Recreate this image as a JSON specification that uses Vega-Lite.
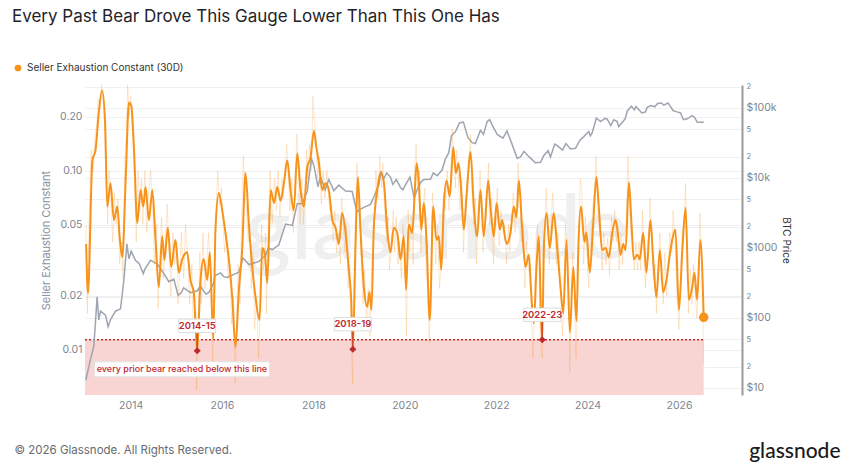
{
  "$schema": "https://vega.github.io/schema/vega-lite/v6.json",
  "width": 657,
  "height": 310,
  "autosize": "none",
  "padding": {"left": 85, "top": 85, "right": 111, "bottom": 71},
  "background": "white",
  "config": {"font": "Inter", "view": {"stroke": null}},
  "title": {
    "text": "Every Past Bear Drove This Gauge Lower Than This One Has",
    "anchor": "start",
    "frame": "group",
    "dx": -73,
    "dy": 21,
    "offset": 58,
    "fontSize": 17,
    "fontWeight": "normal",
    "color": "#1f2328"
  },
  "datasets": {
    "sec": [
      {"date": "2013-01-10", "value": 0.039}, {"date": "2013-01-25", "value": 0.0208}, {"date": "2013-03-01", "value": 0.114},
      {"date": "2013-03-26", "value": 0.13}, {"date": "2013-04-21", "value": 0.21}, {"date": "2013-05-18", "value": 0.28},
      {"date": "2013-06-10", "value": 0.19}, {"date": "2013-06-28", "value": 0.063}, {"date": "2013-07-24", "value": 0.085},
      {"date": "2013-08-20", "value": 0.053}, {"date": "2013-09-16", "value": 0.063}, {"date": "2013-10-07", "value": 0.041},
      {"date": "2013-10-26", "value": 0.033}, {"date": "2013-11-22", "value": 0.088}, {"date": "2013-12-18", "value": 0.24},
      {"date": "2014-01-06", "value": 0.23}, {"date": "2014-01-27", "value": 0.135}, {"date": "2014-02-23", "value": 0.051},
      {"date": "2014-03-21", "value": 0.078}, {"date": "2014-04-12", "value": 0.063}, {"date": "2014-04-30", "value": 0.081},
      {"date": "2014-05-27", "value": 0.053}, {"date": "2014-06-23", "value": 0.078}, {"date": "2014-07-19", "value": 0.041},
      {"date": "2014-08-14", "value": 0.0224}, {"date": "2014-09-10", "value": 0.043}, {"date": "2014-09-28", "value": 0.0317},
      {"date": "2014-10-25", "value": 0.048}, {"date": "2014-11-21", "value": 0.029}, {"date": "2014-12-25", "value": 0.041},
      {"date": "2015-01-21", "value": 0.027}, {"date": "2015-02-17", "value": 0.032}, {"date": "2015-03-29", "value": 0.035},
      {"date": "2015-04-24", "value": 0.0245}, {"date": "2015-05-21", "value": 0.0208}, {"date": "2015-06-17", "value": 0.0099},
      {"date": "2015-07-13", "value": 0.0245}, {"date": "2015-08-08", "value": 0.032}, {"date": "2015-09-05", "value": 0.0245},
      {"date": "2015-09-26", "value": 0.035}, {"date": "2015-10-23", "value": 0.0114}, {"date": "2015-11-10", "value": 0.047},
      {"date": "2015-12-07", "value": 0.075}, {"date": "2016-01-03", "value": 0.06}, {"date": "2016-01-29", "value": 0.045},
      {"date": "2016-02-25", "value": 0.032}, {"date": "2016-03-23", "value": 0.0197}, {"date": "2016-04-18", "value": 0.0104},
      {"date": "2016-05-15", "value": 0.0216}, {"date": "2016-06-11", "value": 0.037}, {"date": "2016-07-07", "value": 0.097},
      {"date": "2016-08-03", "value": 0.05}, {"date": "2016-08-30", "value": 0.029}, {"date": "2016-09-25", "value": 0.0197},
      {"date": "2016-10-27", "value": 0.0147}, {"date": "2016-11-18", "value": 0.037}, {"date": "2016-12-09", "value": 0.034},
      {"date": "2016-12-28", "value": 0.0236}, {"date": "2017-01-24", "value": 0.078}, {"date": "2017-02-20", "value": 0.066},
      {"date": "2017-03-18", "value": 0.081}, {"date": "2017-04-14", "value": 0.068}, {"date": "2017-05-10", "value": 0.085},
      {"date": "2017-06-06", "value": 0.114}, {"date": "2017-07-02", "value": 0.078}, {"date": "2017-07-28", "value": 0.06},
      {"date": "2017-08-25", "value": 0.125}, {"date": "2017-09-20", "value": 0.078}, {"date": "2017-10-17", "value": 0.063},
      {"date": "2017-11-13", "value": 0.105}, {"date": "2017-12-09", "value": 0.118}, {"date": "2018-01-05", "value": 0.167},
      {"date": "2018-01-24", "value": 0.135}, {"date": "2018-02-14", "value": 0.11}, {"date": "2018-03-12", "value": 0.078},
      {"date": "2018-04-08", "value": 0.085}, {"date": "2018-05-04", "value": 0.078}, {"date": "2018-06-01", "value": 0.053},
      {"date": "2018-06-27", "value": 0.048}, {"date": "2018-07-23", "value": 0.039}, {"date": "2018-08-19", "value": 0.058},
      {"date": "2018-09-15", "value": 0.045}, {"date": "2018-10-11", "value": 0.028}, {"date": "2018-10-30", "value": 0.019},
      {"date": "2018-11-12", "value": 0.0101}, {"date": "2018-12-03", "value": 0.037}, {"date": "2018-12-22", "value": 0.092},
      {"date": "2019-01-12", "value": 0.047}, {"date": "2019-02-08", "value": 0.0224}, {"date": "2019-03-07", "value": 0.0174},
      {"date": "2019-03-25", "value": 0.021}, {"date": "2019-04-10", "value": 0.0167}, {"date": "2019-04-28", "value": 0.047},
      {"date": "2019-05-26", "value": 0.078}, {"date": "2019-06-21", "value": 0.097}, {"date": "2019-07-17", "value": 0.087},
      {"date": "2019-08-14", "value": 0.047}, {"date": "2019-09-09", "value": 0.035}, {"date": "2019-10-05", "value": 0.048},
      {"date": "2019-11-02", "value": 0.045}, {"date": "2019-11-28", "value": 0.032}, {"date": "2019-12-24", "value": 0.043},
      {"date": "2020-01-12", "value": 0.0216}, {"date": "2020-02-02", "value": 0.05}, {"date": "2020-03-01", "value": 0.045},
      {"date": "2020-03-22", "value": 0.078}, {"date": "2020-04-05", "value": 0.11}, {"date": "2020-04-23", "value": 0.085},
      {"date": "2020-05-12", "value": 0.047}, {"date": "2020-06-02", "value": 0.066}, {"date": "2020-06-23", "value": 0.041},
      {"date": "2020-07-19", "value": 0.0147}, {"date": "2020-08-16", "value": 0.063}, {"date": "2020-09-11", "value": 0.041},
      {"date": "2020-09-29", "value": 0.043}, {"date": "2020-10-19", "value": 0.028}, {"date": "2020-11-08", "value": 0.063},
      {"date": "2020-11-30", "value": 0.088}, {"date": "2020-12-26", "value": 0.072}, {"date": "2021-01-23", "value": 0.135},
      {"date": "2021-02-13", "value": 0.097}, {"date": "2021-03-06", "value": 0.11}, {"date": "2021-03-27", "value": 0.078},
      {"date": "2021-04-17", "value": 0.047}, {"date": "2021-05-09", "value": 0.072}, {"date": "2021-06-10", "value": 0.127},
      {"date": "2021-07-06", "value": 0.063}, {"date": "2021-08-02", "value": 0.043}, {"date": "2021-08-28", "value": 0.078},
      {"date": "2021-09-24", "value": 0.043}, {"date": "2021-10-29", "value": 0.088}, {"date": "2021-11-16", "value": 0.063},
      {"date": "2021-12-13", "value": 0.043}, {"date": "2022-01-04", "value": 0.066}, {"date": "2022-01-30", "value": 0.047},
      {"date": "2022-02-18", "value": 0.053}, {"date": "2022-03-16", "value": 0.041}, {"date": "2022-03-29", "value": 0.039},
      {"date": "2022-04-25", "value": 0.045}, {"date": "2022-05-22", "value": 0.063}, {"date": "2022-06-12", "value": 0.055},
      {"date": "2022-07-01", "value": 0.088}, {"date": "2022-07-28", "value": 0.047}, {"date": "2022-08-23", "value": 0.029},
      {"date": "2022-09-19", "value": 0.034}, {"date": "2022-10-08", "value": 0.0208}, {"date": "2022-10-29", "value": 0.0141},
      {"date": "2022-11-19", "value": 0.029}, {"date": "2022-12-08", "value": 0.043}, {"date": "2022-12-27", "value": 0.014},
      {"date": "2023-01-04", "value": 0.0114}, {"date": "2023-01-17", "value": 0.037}, {"date": "2023-02-08", "value": 0.058},
      {"date": "2023-03-05", "value": 0.037}, {"date": "2023-04-06", "value": 0.058}, {"date": "2023-05-04", "value": 0.037},
      {"date": "2023-05-30", "value": 0.0224}, {"date": "2023-06-21", "value": 0.016}, {"date": "2023-07-17", "value": 0.041},
      {"date": "2023-08-13", "value": 0.0125}, {"date": "2023-09-09", "value": 0.029}, {"date": "2023-10-05", "value": 0.0145},
      {"date": "2023-10-20", "value": 0.038}, {"date": "2023-11-10", "value": 0.063}, {"date": "2023-12-07", "value": 0.04},
      {"date": "2023-12-23", "value": 0.045}, {"date": "2024-01-19", "value": 0.027}, {"date": "2024-02-15", "value": 0.05},
      {"date": "2024-03-12", "value": 0.092}, {"date": "2024-03-31", "value": 0.063}, {"date": "2024-04-27", "value": 0.036},
      {"date": "2024-05-24", "value": 0.037}, {"date": "2024-06-19", "value": 0.033}, {"date": "2024-07-17", "value": 0.045},
      {"date": "2024-08-12", "value": 0.053}, {"date": "2024-08-30", "value": 0.045}, {"date": "2024-09-21", "value": 0.034},
      {"date": "2024-10-12", "value": 0.039}, {"date": "2024-10-31", "value": 0.036}, {"date": "2024-11-27", "value": 0.086},
      {"date": "2024-12-18", "value": 0.05}, {"date": "2025-01-05", "value": 0.032}, {"date": "2025-02-02", "value": 0.034},
      {"date": "2025-02-22", "value": 0.032}, {"date": "2025-03-21", "value": 0.045}, {"date": "2025-04-16", "value": 0.027},
      {"date": "2025-05-18", "value": 0.053}, {"date": "2025-06-09", "value": 0.032}, {"date": "2025-07-05", "value": 0.0197},
      {"date": "2025-08-01", "value": 0.036}, {"date": "2025-08-28", "value": 0.021}, {"date": "2025-09-23", "value": 0.0245},
      {"date": "2025-10-20", "value": 0.034}, {"date": "2025-11-08", "value": 0.041}, {"date": "2025-12-04", "value": 0.047},
      {"date": "2026-01-01", "value": 0.0167}, {"date": "2026-01-28", "value": 0.036}, {"date": "2026-02-23", "value": 0.062},
      {"date": "2026-03-21", "value": 0.019}, {"date": "2026-04-17", "value": 0.0224}, {"date": "2026-05-05", "value": 0.027},
      {"date": "2026-05-26", "value": 0.019}, {"date": "2026-06-21", "value": 0.041}, {"date": "2026-07-18", "value": 0.0152}
    ],
    "latest": [
      {"date": "2026-07-18", "value": 0.0152}
    ],
    "daily": [
      {"date": "2013-01-08", "value": 0.05}, {"date": "2013-01-20", "value": 0.016}, {"date": "2013-02-05", "value": 0.06},
      {"date": "2013-02-18", "value": 0.13}, {"date": "2013-03-08", "value": 0.1}, {"date": "2013-03-20", "value": 0.15},
      {"date": "2013-04-05", "value": 0.18}, {"date": "2013-04-15", "value": 0.25}, {"date": "2013-05-01", "value": 0.22},
      {"date": "2013-05-12", "value": 0.3}, {"date": "2013-05-25", "value": 0.26}, {"date": "2013-06-05", "value": 0.2},
      {"date": "2013-06-20", "value": 0.09}, {"date": "2013-07-01", "value": 0.05}, {"date": "2013-07-12", "value": 0.1},
      {"date": "2013-07-28", "value": 0.07}, {"date": "2013-08-10", "value": 0.04}, {"date": "2013-08-25", "value": 0.075},
      {"date": "2013-09-08", "value": 0.05}, {"date": "2013-09-22", "value": 0.07}, {"date": "2013-10-05", "value": 0.03},
      {"date": "2013-10-20", "value": 0.04}, {"date": "2013-11-02", "value": 0.025}, {"date": "2013-11-15", "value": 0.12},
      {"date": "2013-11-28", "value": 0.16}, {"date": "2013-12-08", "value": 0.3}, {"date": "2013-12-22", "value": 0.2},
      {"date": "2014-01-02", "value": 0.26}, {"date": "2014-01-15", "value": 0.17}, {"date": "2014-02-01", "value": 0.09},
      {"date": "2014-02-15", "value": 0.04}, {"date": "2014-03-01", "value": 0.1}, {"date": "2014-03-15", "value": 0.06},
      {"date": "2014-03-28", "value": 0.09}, {"date": "2014-04-08", "value": 0.05}, {"date": "2014-04-25", "value": 0.1},
      {"date": "2014-05-10", "value": 0.045}, {"date": "2014-05-20", "value": 0.07}, {"date": "2014-06-10", "value": 0.1},
      {"date": "2014-06-28", "value": 0.06}, {"date": "2014-07-10", "value": 0.03}, {"date": "2014-07-28", "value": 0.05},
      {"date": "2014-08-08", "value": 0.017}, {"date": "2014-08-22", "value": 0.03}, {"date": "2014-09-05", "value": 0.055},
      {"date": "2014-09-20", "value": 0.025}, {"date": "2014-10-05", "value": 0.04}, {"date": "2014-10-20", "value": 0.065},
      {"date": "2014-11-05", "value": 0.035}, {"date": "2014-11-18", "value": 0.02}, {"date": "2014-12-05", "value": 0.045},
      {"date": "2014-12-18", "value": 0.03}, {"date": "2015-01-05", "value": 0.04}, {"date": "2015-01-15", "value": 0.018},
      {"date": "2015-02-01", "value": 0.03}, {"date": "2015-02-10", "value": 0.045}, {"date": "2015-03-01", "value": 0.025},
      {"date": "2015-03-15", "value": 0.05}, {"date": "2015-04-05", "value": 0.03}, {"date": "2015-04-18", "value": 0.018},
      {"date": "2015-05-05", "value": 0.03}, {"date": "2015-05-15", "value": 0.013}, {"date": "2015-06-05", "value": 0.016},
      {"date": "2015-06-12", "value": 0.006}, {"date": "2015-06-25", "value": 0.014}, {"date": "2015-07-08", "value": 0.035},
      {"date": "2015-07-20", "value": 0.018}, {"date": "2015-08-02", "value": 0.045}, {"date": "2015-08-18", "value": 0.022},
      {"date": "2015-09-01", "value": 0.03}, {"date": "2015-09-15", "value": 0.045}, {"date": "2015-10-05", "value": 0.025},
      {"date": "2015-10-18", "value": 0.008}, {"date": "2015-10-28", "value": 0.02}, {"date": "2015-11-15", "value": 0.06},
      {"date": "2015-11-28", "value": 0.1}, {"date": "2015-12-12", "value": 0.065}, {"date": "2015-12-28", "value": 0.08},
      {"date": "2016-01-10", "value": 0.05}, {"date": "2016-01-22", "value": 0.035}, {"date": "2016-02-05", "value": 0.045},
      {"date": "2016-02-18", "value": 0.025}, {"date": "2016-03-05", "value": 0.03}, {"date": "2016-03-18", "value": 0.014},
      {"date": "2016-04-02", "value": 0.02}, {"date": "2016-04-15", "value": 0.0065}, {"date": "2016-04-25", "value": 0.013},
      {"date": "2016-05-08", "value": 0.03}, {"date": "2016-05-25", "value": 0.018}, {"date": "2016-06-05", "value": 0.05},
      {"date": "2016-06-20", "value": 0.12}, {"date": "2016-07-02", "value": 0.08}, {"date": "2016-07-15", "value": 0.06},
      {"date": "2016-07-28", "value": 0.04}, {"date": "2016-08-10", "value": 0.05}, {"date": "2016-08-22", "value": 0.022},
      {"date": "2016-09-05", "value": 0.035}, {"date": "2016-09-18", "value": 0.013}, {"date": "2016-10-05", "value": 0.02},
      {"date": "2016-10-20", "value": 0.009}, {"date": "2016-11-05", "value": 0.02}, {"date": "2016-11-12", "value": 0.05},
      {"date": "2016-11-28", "value": 0.028}, {"date": "2016-12-15", "value": 0.045}, {"date": "2016-12-22", "value": 0.016},
      {"date": "2017-01-08", "value": 0.06}, {"date": "2017-01-20", "value": 0.1}, {"date": "2017-02-05", "value": 0.05},
      {"date": "2017-02-25", "value": 0.09}, {"date": "2017-03-10", "value": 0.06}, {"date": "2017-03-25", "value": 0.1},
      {"date": "2017-04-08", "value": 0.055}, {"date": "2017-04-25", "value": 0.09}, {"date": "2017-05-05", "value": 0.07},
      {"date": "2017-05-20", "value": 0.11}, {"date": "2017-06-01", "value": 0.14}, {"date": "2017-06-15", "value": 0.09},
      {"date": "2017-06-28", "value": 0.06}, {"date": "2017-07-12", "value": 0.09}, {"date": "2017-07-25", "value": 0.045},
      {"date": "2017-08-10", "value": 0.1}, {"date": "2017-08-22", "value": 0.16}, {"date": "2017-09-05", "value": 0.09},
      {"date": "2017-09-15", "value": 0.05}, {"date": "2017-10-01", "value": 0.09}, {"date": "2017-10-12", "value": 0.05},
      {"date": "2017-10-28", "value": 0.08}, {"date": "2017-11-08", "value": 0.13}, {"date": "2017-11-20", "value": 0.09},
      {"date": "2017-12-01", "value": 0.14}, {"date": "2017-12-15", "value": 0.1}, {"date": "2017-12-28", "value": 0.26},
      {"date": "2018-01-08", "value": 0.19}, {"date": "2018-01-20", "value": 0.16}, {"date": "2018-02-05", "value": 0.09},
      {"date": "2018-02-20", "value": 0.12}, {"date": "2018-03-05", "value": 0.065}, {"date": "2018-03-20", "value": 0.1},
      {"date": "2018-04-02", "value": 0.07}, {"date": "2018-04-18", "value": 0.1}, {"date": "2018-05-10", "value": 0.06},
      {"date": "2018-05-25", "value": 0.065}, {"date": "2018-06-08", "value": 0.04}, {"date": "2018-06-20", "value": 0.06},
      {"date": "2018-07-05", "value": 0.035}, {"date": "2018-07-18", "value": 0.045}, {"date": "2018-08-05", "value": 0.03},
      {"date": "2018-08-15", "value": 0.07}, {"date": "2018-08-28", "value": 0.05}, {"date": "2018-09-10", "value": 0.035},
      {"date": "2018-09-22", "value": 0.05}, {"date": "2018-10-05", "value": 0.022}, {"date": "2018-10-18", "value": 0.03},
      {"date": "2018-10-28", "value": 0.014}, {"date": "2018-11-10", "value": 0.0065}, {"date": "2018-11-20", "value": 0.02},
      {"date": "2018-12-01", "value": 0.05}, {"date": "2018-12-15", "value": 0.11}, {"date": "2018-12-28", "value": 0.07},
      {"date": "2019-01-05", "value": 0.06}, {"date": "2019-01-20", "value": 0.03}, {"date": "2019-02-01", "value": 0.018},
      {"date": "2019-02-15", "value": 0.028}, {"date": "2019-03-01", "value": 0.013}, {"date": "2019-03-15", "value": 0.022},
      {"date": "2019-03-30", "value": 0.012}, {"date": "2019-04-08", "value": 0.025}, {"date": "2019-04-20", "value": 0.03},
      {"date": "2019-05-05", "value": 0.06}, {"date": "2019-05-15", "value": 0.1}, {"date": "2019-06-01", "value": 0.07},
      {"date": "2019-06-15", "value": 0.12}, {"date": "2019-07-01", "value": 0.08}, {"date": "2019-07-10", "value": 0.11},
      {"date": "2019-07-25", "value": 0.06}, {"date": "2019-08-08", "value": 0.04}, {"date": "2019-08-20", "value": 0.055},
      {"date": "2019-09-01", "value": 0.028}, {"date": "2019-09-18", "value": 0.04}, {"date": "2019-10-01", "value": 0.06},
      {"date": "2019-10-12", "value": 0.035}, {"date": "2019-10-25", "value": 0.055}, {"date": "2019-11-08", "value": 0.03},
      {"date": "2019-11-20", "value": 0.04}, {"date": "2019-12-05", "value": 0.025}, {"date": "2019-12-18", "value": 0.05},
      {"date": "2020-01-05", "value": 0.03}, {"date": "2020-01-15", "value": 0.012}, {"date": "2020-01-28", "value": 0.06},
      {"date": "2020-02-10", "value": 0.035}, {"date": "2020-02-22", "value": 0.055}, {"date": "2020-03-08", "value": 0.03},
      {"date": "2020-03-20", "value": 0.1}, {"date": "2020-04-01", "value": 0.14}, {"date": "2020-04-12", "value": 0.08},
      {"date": "2020-04-28", "value": 0.1}, {"date": "2020-05-08", "value": 0.035}, {"date": "2020-05-20", "value": 0.055},
      {"date": "2020-06-10", "value": 0.08}, {"date": "2020-06-18", "value": 0.03}, {"date": "2020-07-05", "value": 0.02},
      {"date": "2020-07-15", "value": 0.011}, {"date": "2020-07-28", "value": 0.025}, {"date": "2020-08-10", "value": 0.075},
      {"date": "2020-08-25", "value": 0.05}, {"date": "2020-09-05", "value": 0.03}, {"date": "2020-09-20", "value": 0.05},
      {"date": "2020-10-05", "value": 0.022}, {"date": "2020-10-25", "value": 0.035}, {"date": "2020-11-05", "value": 0.075},
      {"date": "2020-11-20", "value": 0.06}, {"date": "2020-12-05", "value": 0.1}, {"date": "2020-12-20", "value": 0.06},
      {"date": "2021-01-05", "value": 0.1}, {"date": "2021-01-15", "value": 0.17}, {"date": "2021-01-30", "value": 0.11},
      {"date": "2021-02-08", "value": 0.08}, {"date": "2021-02-20", "value": 0.13}, {"date": "2021-03-05", "value": 0.09},
      {"date": "2021-03-18", "value": 0.06}, {"date": "2021-04-01", "value": 0.09}, {"date": "2021-04-15", "value": 0.035},
      {"date": "2021-04-28", "value": 0.06}, {"date": "2021-05-15", "value": 0.09}, {"date": "2021-05-28", "value": 0.1},
      {"date": "2021-06-10", "value": 0.16}, {"date": "2021-06-20", "value": 0.08}, {"date": "2021-07-05", "value": 0.05},
      {"date": "2021-07-18", "value": 0.07}, {"date": "2021-07-28", "value": 0.03}, {"date": "2021-08-10", "value": 0.06},
      {"date": "2021-08-25", "value": 0.1}, {"date": "2021-09-05", "value": 0.06}, {"date": "2021-09-18", "value": 0.035},
      {"date": "2021-10-05", "value": 0.06}, {"date": "2021-10-20", "value": 0.075}, {"date": "2021-11-01", "value": 0.11},
      {"date": "2021-11-10", "value": 0.05}, {"date": "2021-11-25", "value": 0.07}, {"date": "2021-12-10", "value": 0.03},
      {"date": "2021-12-25", "value": 0.055}, {"date": "2022-01-10", "value": 0.08}, {"date": "2022-01-25", "value": 0.038},
      {"date": "2022-02-08", "value": 0.06}, {"date": "2022-02-25", "value": 0.045}, {"date": "2022-03-10", "value": 0.05},
      {"date": "2022-03-25", "value": 0.03}, {"date": "2022-04-10", "value": 0.05}, {"date": "2022-04-20", "value": 0.035},
      {"date": "2022-05-05", "value": 0.055}, {"date": "2022-05-18", "value": 0.075}, {"date": "2022-06-01", "value": 0.045},
      {"date": "2022-06-15", "value": 0.065}, {"date": "2022-06-25", "value": 0.11}, {"date": "2022-07-10", "value": 0.07},
      {"date": "2022-07-20", "value": 0.04}, {"date": "2022-08-05", "value": 0.05}, {"date": "2022-08-18", "value": 0.022},
      {"date": "2022-09-01", "value": 0.04}, {"date": "2022-09-12", "value": 0.03}, {"date": "2022-09-28", "value": 0.025},
      {"date": "2022-10-10", "value": 0.015}, {"date": "2022-10-22", "value": 0.009}, {"date": "2022-11-05", "value": 0.02},
      {"date": "2022-11-15", "value": 0.035}, {"date": "2022-11-28", "value": 0.05}, {"date": "2022-12-10", "value": 0.03},
      {"date": "2022-12-20", "value": 0.011}, {"date": "2023-01-05", "value": 0.009}, {"date": "2023-01-12", "value": 0.02},
      {"date": "2023-01-25", "value": 0.05}, {"date": "2023-02-05", "value": 0.08}, {"date": "2023-02-18", "value": 0.045},
      {"date": "2023-03-01", "value": 0.03}, {"date": "2023-03-15", "value": 0.05}, {"date": "2023-03-28", "value": 0.075},
      {"date": "2023-04-15", "value": 0.045}, {"date": "2023-04-28", "value": 0.03}, {"date": "2023-05-10", "value": 0.045},
      {"date": "2023-05-22", "value": 0.028}, {"date": "2023-06-05", "value": 0.018}, {"date": "2023-06-15", "value": 0.012},
      {"date": "2023-06-28", "value": 0.02}, {"date": "2023-07-08", "value": 0.05}, {"date": "2023-07-25", "value": 0.03},
      {"date": "2023-08-05", "value": 0.02}, {"date": "2023-08-12", "value": 0.0075}, {"date": "2023-08-25", "value": 0.018},
      {"date": "2023-09-05", "value": 0.035}, {"date": "2023-09-18", "value": 0.022}, {"date": "2023-10-01", "value": 0.009},
      {"date": "2023-10-12", "value": 0.018}, {"date": "2023-10-25", "value": 0.05}, {"date": "2023-11-05", "value": 0.09},
      {"date": "2023-11-18", "value": 0.075}, {"date": "2023-12-01", "value": 0.03}, {"date": "2023-12-15", "value": 0.055},
      {"date": "2023-12-28", "value": 0.035}, {"date": "2024-01-10", "value": 0.022}, {"date": "2024-01-25", "value": 0.035},
      {"date": "2024-02-08", "value": 0.06}, {"date": "2024-02-25", "value": 0.075}, {"date": "2024-03-08", "value": 0.12},
      {"date": "2024-03-18", "value": 0.08}, {"date": "2024-04-01", "value": 0.05}, {"date": "2024-04-15", "value": 0.045},
      {"date": "2024-04-28", "value": 0.028}, {"date": "2024-05-10", "value": 0.045}, {"date": "2024-05-28", "value": 0.03},
      {"date": "2024-06-10", "value": 0.042}, {"date": "2024-06-25", "value": 0.026}, {"date": "2024-07-10", "value": 0.055},
      {"date": "2024-07-25", "value": 0.04}, {"date": "2024-08-05", "value": 0.06}, {"date": "2024-08-18", "value": 0.04},
      {"date": "2024-08-30", "value": 0.05}, {"date": "2024-09-10", "value": 0.028}, {"date": "2024-09-25", "value": 0.045},
      {"date": "2024-10-08", "value": 0.03}, {"date": "2024-10-20", "value": 0.045}, {"date": "2024-11-05", "value": 0.05},
      {"date": "2024-11-20", "value": 0.12}, {"date": "2024-12-01", "value": 0.07}, {"date": "2024-12-12", "value": 0.045},
      {"date": "2024-12-28", "value": 0.038}, {"date": "2025-01-10", "value": 0.028}, {"date": "2025-01-22", "value": 0.04},
      {"date": "2025-02-05", "value": 0.028}, {"date": "2025-02-15", "value": 0.04}, {"date": "2025-03-01", "value": 0.028},
      {"date": "2025-03-15", "value": 0.06}, {"date": "2025-03-28", "value": 0.035}, {"date": "2025-04-08", "value": 0.022},
      {"date": "2025-04-22", "value": 0.035}, {"date": "2025-05-05", "value": 0.045}, {"date": "2025-05-15", "value": 0.07},
      {"date": "2025-05-28", "value": 0.04}, {"date": "2025-06-10", "value": 0.025}, {"date": "2025-06-25", "value": 0.03},
      {"date": "2025-07-05", "value": 0.016}, {"date": "2025-07-18", "value": 0.025}, {"date": "2025-08-01", "value": 0.045},
      {"date": "2025-08-15", "value": 0.028}, {"date": "2025-08-28", "value": 0.018}, {"date": "2025-09-10", "value": 0.035},
      {"date": "2025-09-25", "value": 0.02}, {"date": "2025-10-08", "value": 0.03}, {"date": "2025-10-20", "value": 0.045},
      {"date": "2025-11-05", "value": 0.035}, {"date": "2025-11-15", "value": 0.06}, {"date": "2025-12-01", "value": 0.04},
      {"date": "2025-12-15", "value": 0.02}, {"date": "2026-01-01", "value": 0.013}, {"date": "2026-01-12", "value": 0.022},
      {"date": "2026-01-25", "value": 0.045}, {"date": "2026-02-10", "value": 0.05}, {"date": "2026-02-22", "value": 0.085},
      {"date": "2026-03-05", "value": 0.04}, {"date": "2026-03-18", "value": 0.016}, {"date": "2026-04-01", "value": 0.028},
      {"date": "2026-04-15", "value": 0.018}, {"date": "2026-04-28", "value": 0.03}, {"date": "2026-05-10", "value": 0.022},
      {"date": "2026-05-25", "value": 0.015}, {"date": "2026-06-08", "value": 0.03}, {"date": "2026-06-18", "value": 0.058},
      {"date": "2026-07-01", "value": 0.03}, {"date": "2026-07-10", "value": 0.018}, {"date": "2026-07-18", "value": 0.0085}
    ],
    "btc": [
      {"date": "2013-01-08", "price": 13}, {"date": "2013-02-10", "price": 24}, {"date": "2013-03-13", "price": 40},
      {"date": "2013-04-08", "price": 200}, {"date": "2013-04-21", "price": 94}, {"date": "2013-05-05", "price": 125},
      {"date": "2013-06-14", "price": 110}, {"date": "2013-07-05", "price": 75}, {"date": "2013-07-24", "price": 95},
      {"date": "2013-09-02", "price": 125}, {"date": "2013-10-12", "price": 135}, {"date": "2013-11-08", "price": 350},
      {"date": "2013-12-02", "price": 1150}, {"date": "2013-12-18", "price": 700}, {"date": "2014-01-05", "price": 900},
      {"date": "2014-02-09", "price": 660}, {"date": "2014-03-08", "price": 610}, {"date": "2014-04-12", "price": 430},
      {"date": "2014-04-25", "price": 500}, {"date": "2014-06-09", "price": 670}, {"date": "2014-08-02", "price": 590},
      {"date": "2014-09-24", "price": 430}, {"date": "2014-11-02", "price": 330}, {"date": "2014-12-12", "price": 360},
      {"date": "2015-01-15", "price": 210}, {"date": "2015-02-10", "price": 230}, {"date": "2015-03-01", "price": 270},
      {"date": "2015-04-24", "price": 230}, {"date": "2015-06-17", "price": 245}, {"date": "2015-07-12", "price": 285},
      {"date": "2015-08-25", "price": 220}, {"date": "2015-09-17", "price": 230}, {"date": "2015-10-28", "price": 320},
      {"date": "2015-11-05", "price": 400}, {"date": "2015-12-20", "price": 440}, {"date": "2016-01-15", "price": 390},
      {"date": "2016-02-12", "price": 380}, {"date": "2016-04-06", "price": 420}, {"date": "2016-05-15", "price": 450},
      {"date": "2016-06-18", "price": 720}, {"date": "2016-08-03", "price": 580}, {"date": "2016-10-21", "price": 640},
      {"date": "2016-12-14", "price": 780}, {"date": "2017-01-05", "price": 1000}, {"date": "2017-02-06", "price": 950},
      {"date": "2017-03-30", "price": 1100}, {"date": "2017-05-23", "price": 2200}, {"date": "2017-07-16", "price": 2100},
      {"date": "2017-08-25", "price": 4300}, {"date": "2017-10-04", "price": 4300}, {"date": "2017-11-13", "price": 6500},
      {"date": "2017-12-09", "price": 15000}, {"date": "2017-12-18", "price": 18500}, {"date": "2018-01-05", "price": 15000},
      {"date": "2018-02-06", "price": 7500}, {"date": "2018-02-27", "price": 10400}, {"date": "2018-04-05", "price": 6800},
      {"date": "2018-05-04", "price": 9500}, {"date": "2018-06-13", "price": 6600}, {"date": "2018-07-23", "price": 7900},
      {"date": "2018-09-15", "price": 6500}, {"date": "2018-11-07", "price": 6400}, {"date": "2018-12-03", "price": 4000},
      {"date": "2018-12-15", "price": 3300}, {"date": "2019-01-12", "price": 3600}, {"date": "2019-02-21", "price": 3900},
      {"date": "2019-04-02", "price": 4200}, {"date": "2019-04-28", "price": 5300}, {"date": "2019-06-08", "price": 8000},
      {"date": "2019-06-26", "price": 12500}, {"date": "2019-07-17", "price": 9700}, {"date": "2019-08-10", "price": 11800},
      {"date": "2019-09-09", "price": 10300}, {"date": "2019-09-28", "price": 8100}, {"date": "2019-10-26", "price": 9500},
      {"date": "2019-11-28", "price": 7300}, {"date": "2019-12-18", "price": 6800}, {"date": "2020-01-07", "price": 8000},
      {"date": "2020-02-12", "price": 10300}, {"date": "2020-03-16", "price": 5200}, {"date": "2020-04-11", "price": 6900},
      {"date": "2020-05-10", "price": 8800}, {"date": "2020-06-02", "price": 9500}, {"date": "2020-07-25", "price": 9600},
      {"date": "2020-08-16", "price": 11800}, {"date": "2020-09-16", "price": 10800}, {"date": "2020-10-25", "price": 13000},
      {"date": "2020-11-20", "price": 18500}, {"date": "2020-12-18", "price": 23000}, {"date": "2021-01-08", "price": 40000},
      {"date": "2021-02-10", "price": 46000}, {"date": "2021-03-13", "price": 61000}, {"date": "2021-04-14", "price": 63000},
      {"date": "2021-05-20", "price": 38000}, {"date": "2021-06-22", "price": 32000}, {"date": "2021-07-19", "price": 31000},
      {"date": "2021-08-28", "price": 48000}, {"date": "2021-09-21", "price": 42000}, {"date": "2021-10-21", "price": 64000},
      {"date": "2021-11-10", "price": 68000}, {"date": "2021-11-30", "price": 57000}, {"date": "2022-01-09", "price": 42000},
      {"date": "2022-02-24", "price": 37000}, {"date": "2022-03-28", "price": 47000}, {"date": "2022-04-12", "price": 40000},
      {"date": "2022-05-12", "price": 29000}, {"date": "2022-06-18", "price": 19000}, {"date": "2022-07-14", "price": 20000},
      {"date": "2022-08-12", "price": 24000}, {"date": "2022-09-10", "price": 21000}, {"date": "2022-10-03", "price": 19200},
      {"date": "2022-11-09", "price": 16500}, {"date": "2022-12-21", "price": 16800}, {"date": "2023-01-17", "price": 21000},
      {"date": "2023-02-20", "price": 24500}, {"date": "2023-03-11", "price": 20000}, {"date": "2023-04-14", "price": 30500},
      {"date": "2023-05-04", "price": 29000}, {"date": "2023-06-15", "price": 25000}, {"date": "2023-07-13", "price": 31000},
      {"date": "2023-08-18", "price": 26000}, {"date": "2023-09-27", "price": 26500}, {"date": "2023-10-31", "price": 34500},
      {"date": "2023-12-02", "price": 39000}, {"date": "2024-01-11", "price": 46000}, {"date": "2024-01-23", "price": 40000},
      {"date": "2024-02-07", "price": 44000}, {"date": "2024-03-12", "price": 72000}, {"date": "2024-04-14", "price": 64000},
      {"date": "2024-05-20", "price": 71000}, {"date": "2024-06-06", "price": 70000}, {"date": "2024-07-05", "price": 56000},
      {"date": "2024-07-29", "price": 68000}, {"date": "2024-08-25", "price": 64000}, {"date": "2024-09-06", "price": 54000},
      {"date": "2024-10-04", "price": 62000}, {"date": "2024-10-28", "price": 70000}, {"date": "2024-11-13", "price": 90000},
      {"date": "2024-12-17", "price": 106000}, {"date": "2025-01-10", "price": 94000}, {"date": "2025-01-22", "price": 105000},
      {"date": "2025-02-10", "price": 97000}, {"date": "2025-03-10", "price": 85000}, {"date": "2025-04-08", "price": 88000},
      {"date": "2025-04-22", "price": 102000}, {"date": "2025-05-22", "price": 108000}, {"date": "2025-06-22", "price": 104000},
      {"date": "2025-07-14", "price": 116000}, {"date": "2025-08-14", "price": 118000}, {"date": "2025-09-01", "price": 110000},
      {"date": "2025-10-06", "price": 118000}, {"date": "2025-10-20", "price": 108000}, {"date": "2025-11-15", "price": 92000},
      {"date": "2025-12-17", "price": 88000}, {"date": "2026-01-14", "price": 85000}, {"date": "2026-02-05", "price": 68000},
      {"date": "2026-03-07", "price": 70000}, {"date": "2026-04-17", "price": 78000}, {"date": "2026-05-05", "price": 74000},
      {"date": "2026-05-26", "price": 63000}, {"date": "2026-07-05", "price": 62000}, {"date": "2026-07-18", "price": 64000}
    ],
    "bears": [
      {"date": "2015-06-17", "value": 0.0099, "label": "2014-15"},
      {"date": "2018-11-12", "value": 0.0101, "label": "2018-19"},
      {"date": "2023-01-04", "value": 0.0114, "label": "2022-23"}
    ],
    "threshold": [
      {"start": "2013-01-01", "end": "2026-07-18", "level": 0.0114}
    ],
    "note": [
      {"date": "2015-02-15", "value": 0.0078, "text": "every prior bear reached below this line"}
    ]
  },
  "resolve": {
    "scale": {"y": "independent"},
    "axis": {"x": "independent", "y": "independent"}
  },
  "layer": [
    {
      "layer": [
        {
          "data": {"name": "threshold"},
          "mark": {"type": "rect", "color": "#f8d5d3"},
          "encoding": {
            "x": {"field": "start", "type": "temporal", "axis": null,
              "scale": {"domain": [{"year": 2013, "month": 1, "date": 1, "utc": true}, {"year": 2027, "month": 5, "date": 20, "utc": true}]}},
            "x2": {"field": "end"},
            "y": {"field": "level", "type": "quantitative", "axis": null,
              "scale": {"type": "log", "domain": [0.00561, 0.3], "nice": false}},
            "y2": {"datum": 0.00561}
          }
        },
        {
          "data": {"name": "threshold"},
          "mark": {"type": "rule", "color": "#c62828", "strokeDash": [2, 2], "strokeWidth": 1.3},
          "encoding": {
            "x": {"field": "start", "type": "temporal", "axis": null},
            "x2": {"field": "end"},
            "y": {"field": "level", "type": "quantitative", "axis": null,
              "scale": {"type": "log", "domain": [0.00561, 0.3], "nice": false}}
          }
        },
        {
          "data": {"values": [{}]},
          "mark": {"type": "text", "fontSize": 88, "fontWeight": 500, "font": "Lato", "color": "#efefef", "baseline": "middle", "align": "center"},
          "encoding": {
            "x": {"datum": {"year": 2020, "month": 9, "date": 10, "utc": true}, "type": "temporal", "axis": null},
            "y": {"datum": 0.045, "type": "quantitative", "axis": null,
              "scale": {"type": "log", "domain": [0.00561, 0.3], "nice": false}},
            "text": {"value": "glassnode"}
          }
        }
      ]
    },
    {
      "data": {"name": "btc"},
      "mark": {"type": "line", "color": "#9ea5b0", "strokeWidth": 1.5},
      "encoding": {
        "x": {"field": "date", "type": "temporal",
          "axis": {"orient": "top", "labels": false, "ticks": false, "domain": false, "grid": false,
            "title": "glassnode", "titleX": 755, "titleY": 366, "titleAlign": "right", "titleBaseline": "middle",
            "titleFontSize": 21, "titleFontWeight": 500, "titleFont": "Lato", "titleColor": "#1b1b1b"}},
        "y": {"field": "price", "type": "quantitative",
          "scale": {"type": "log", "domain": [7.94, 213000], "nice": false},
          "axis": {
            "orient": "right",
            "values": [10, 20, 50, 100, 200, 500, 1000, 2000, 5000, 10000, 20000, 50000, 100000, 200000],
            "labelExpr": "datum.value == 100000 ? '$100k' : datum.value == 10000 ? '$10k' : (datum.value == 10 || datum.value == 100 || datum.value == 1000) ? '$' + datum.value : substring(format(datum.value, 'd'), 0, 1)",
            "labelFontSize": {"condition": {"test": "datum.value == 10 || datum.value == 100 || datum.value == 1000 || datum.value == 10000 || datum.value == 100000", "value": 10.5}, "value": 7.5},
            "labelColor": "#7d8591",
            "labelPadding": 4,
            "domain": true,
            "domainColor": "#9a9a9a",
            "domainWidth": 2,
            "ticks": false,
            "grid": true,
            "gridColor": "#f0f0f0",
            "title": "BTC Price",
            "titleColor": "#333333",
            "titleFontSize": 10,
            "titleFontWeight": "normal",
            "titlePadding": 4
          }
        }
      }
    },
    {
      "encoding": {
        "x": {"field": "date", "type": "temporal",
          "axis": {"orient": "bottom", "format": "%Y",
            "values": [{"year": 2014, "month": 1, "date": 1, "utc": true}, {"year": 2016, "month": 1, "date": 1, "utc": true}, {"year": 2018, "month": 1, "date": 1, "utc": true}, {"year": 2020, "month": 1, "date": 1, "utc": true}, {"year": 2022, "month": 1, "date": 1, "utc": true}, {"year": 2024, "month": 1, "date": 1, "utc": true}, {"year": 2026, "month": 1, "date": 1, "utc": true}],
            "labelColor": "#7d8591", "labelFontSize": 10.5, "labelPadding": 5,
            "domain": false, "ticks": false, "grid": false,
            "title": "© 2026 Glassnode. All Rights Reserved.",
            "titleX": -71, "titleY": 55, "titleAlign": "left", "titleBaseline": "middle",
            "titleFontSize": 11.5, "titleFontWeight": "normal", "titleColor": "#666a70"}},
        "y": {"field": "value", "type": "quantitative",
          "scale": {"type": "log", "domain": [0.00561, 0.3], "nice": false},
          "axis": {"orient": "left", "values": [0.01, 0.02, 0.05, 0.1, 0.2], "format": ".2f",
            "domain": false, "ticks": false, "grid": true, "gridColor": "#f0f0f0",
            "labelColor": "#7d8591", "labelFontSize": 10.5, "labelPadding": 3,
            "title": "Seller Exhaustion Constant", "titleColor": "#8a929e", "titleFontSize": 11,
            "titleFontWeight": "normal", "titlePadding": 8}}
      },
      "layer": [
        {
          "data": {"name": "daily"},
          "mark": {"type": "line", "color": "#f7931a", "opacity": 0.22, "strokeWidth": 1}
        },
        {
          "data": {"name": "sec"},
          "mark": {"type": "line", "color": "#f7931a", "strokeWidth": 2, "interpolate": "monotone"}
        },
        {
          "data": {"name": "latest"},
          "mark": {"type": "circle", "size": 90, "opacity": 1},
          "encoding": {
            "color": {"datum": "Seller Exhaustion Constant (30D)", "type": "nominal",
              "scale": {"range": ["#f7931a"]},
              "legend": {"orient": "none", "legendX": -72, "legendY": -22, "title": null,
                "labelFontSize": 10, "labelColor": "#333333", "symbolSize": 45, "symbolType": "circle",
                "padding": 0, "labelOffset": 4}}
          }
        },
        {
          "data": {"name": "bears"},
          "mark": {"type": "tick", "orient": "vertical", "color": "#c0282d", "thickness": 1.5, "size": 17, "yOffset": -9}
        },
        {
          "data": {"name": "bears"},
          "mark": {"type": "point", "shape": "M-1,-0.36L1,-0.36L1,0.36L-1,0.36Z", "size": 1369, "filled": true,
            "fill": "white", "stroke": "#dcdcdc", "strokeWidth": 1, "opacity": 1, "yOffset": -25}
        },
        {
          "data": {"name": "bears"},
          "mark": {"type": "text", "color": "#c0282d", "fontSize": 9.5, "fontWeight": 600, "yOffset": -25, "baseline": "middle"},
          "encoding": {"text": {"field": "label"}}
        },
        {
          "data": {"name": "bears"},
          "mark": {"type": "point", "shape": "diamond", "size": 50, "filled": true, "color": "#c0282d", "opacity": 1}
        },
        {
          "data": {"name": "note"},
          "mark": {"type": "point", "shape": "M-1,-0.0857L1,-0.0857L1,0.0857L-1,0.0857Z", "size": 30625, "filled": true,
            "fill": "white", "stroke": "#e3e3e3", "strokeWidth": 1, "opacity": 1}
        },
        {
          "data": {"name": "note"},
          "mark": {"type": "text", "color": "#c0282d", "fontSize": 9, "fontWeight": 500, "baseline": "middle"},
          "encoding": {"text": {"field": "text"}}
        }
      ]
    }
  ]
}
